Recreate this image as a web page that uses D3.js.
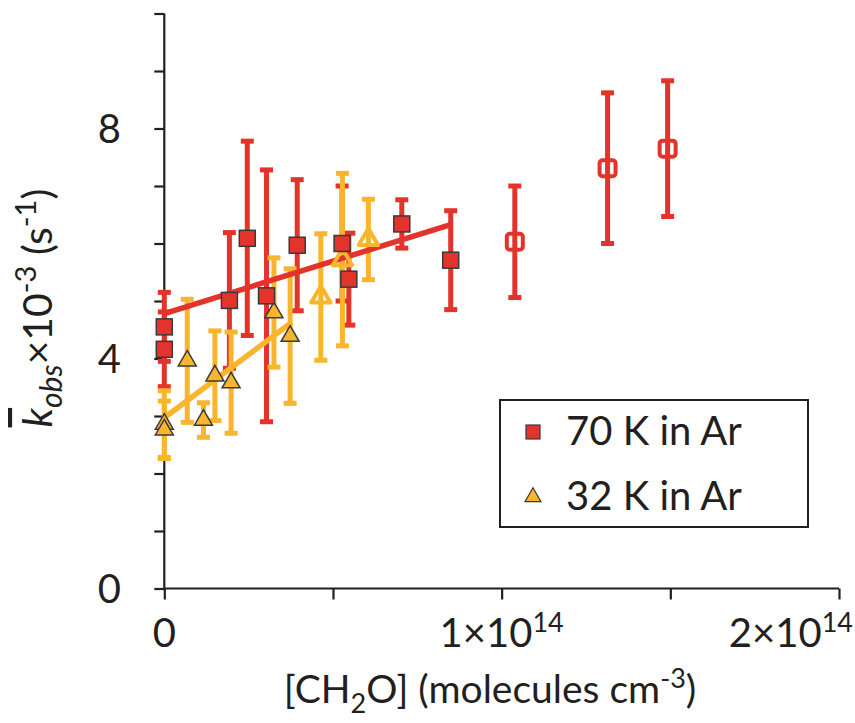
<!DOCTYPE html>
<html>
<head>
<meta charset="utf-8">
<script src="https://cdn.jsdelivr.net/npm/d3@7"></script>
<style>
  body { margin: 0; background: #fff; }
  text { font-family: Lato, "Open Sans", sans-serif; fill: #231f20; }
</style>
</head>
<body>
<div id="chart-area"></div>
<script>
// [CH2O] in molecules cm-3, k in units of 10^3 s-1
var red70X = [0, 0, 1.93e13, 2.46e13, 3.03e13, 3.94e13, 5.27e13, 5.47e13, 7.04e13, 8.49e13];
var red70Y = [4.55, 4.16, 5.01, 6.09, 5.09, 5.97, 6.00, 5.38, 6.34, 5.71];
var red70Err = [0.6, 0.65, 1.18, 1.69, 2.19, 1.14, 1.0, 0.8, 0.42, 0.86];
var red70OpenX = [10.39e13, 13.14e13, 14.92e13];
var red70OpenY = [6.03, 7.31, 7.65];
var red70OpenErr = [0.97, 1.31, 1.18];
var red70Fit = [[0, 4.78], [8.49e13, 6.33]];

var yel32X = [0, 0, 0.68e13, 1.16e13, 1.50e13, 1.98e13, 3.25e13, 3.73e13];
var yel32Y = [2.86, 2.76, 3.96, 2.93, 3.70, 3.58, 4.80, 4.39];
var yel32Err = [0.58, 0.5, 1.07, 0.3, 0.78, 0.88, 0.95, 1.17];
var yel32OpenX = [4.64e13, 5.28e13, 6.05e13];
var yel32OpenY = [5.07, 5.72, 6.07];
var yel32OpenErr = [1.1, 1.5, 0.7];
var yel32Fit = [[0, 2.97], [3.78e13, 4.63]];

var xTickValues = [0, 5e13, 1e14, 1.5e14, 2e14];
var xTickLabels = [["0", ""], ["", ""], ["1×10", "14"], ["", ""], ["2×10", "14"]];
var yTickValues = [0, 1, 2, 3, 4, 5, 6, 7, 8, 9, 10];
var yTickLabels = ["0", "", "", "", "4", "", "", "", "8", "", ""];
var seriesNames = ["70 K in Ar", "32 K in Ar"];

var RED = "#e3332a";
var YEL = "#f9b52b";
var EDGE = "#3a3a3a";

var width = 855, height = 723;
var svg = d3.select("#chart-area").append("svg").attr("width", width).attr("height", height);

var x = d3.scaleLinear().domain([0, 2e14]).range([164.3, 839]);
var y = d3.scaleLinear().domain([0, 10]).range([588.5, 13.5]);

// axes
var xAxis = d3.axisBottom(x).tickValues(xTickValues).tickSize(11).tickFormat("");
var yAxis = d3.axisLeft(y).tickValues(yTickValues).tickSize(10).tickFormat("");

var xAxisGroup = svg.append("g").attr("transform", "translate(0," + y(0) + ")").call(xAxis);
var yAxisGroup = svg.append("g").attr("transform", "translate(" + x(0) + ",0)").call(yAxis);
[xAxisGroup, yAxisGroup].forEach(function(g) {
  g.select(".domain").attr("stroke", "#231f20").attr("stroke-width", 2.2);
  g.selectAll(".tick line").attr("stroke", "#231f20").attr("stroke-width", 2.2);
});
yAxisGroup.select(".domain").attr("d", "M0," + y(0) + "V" + y(10));
xAxisGroup.select(".domain").attr("d", "M" + x(0) + ",0H" + x(2e14));

// tick labels
xTickValues.forEach(function(v, i) {
  var lab = xTickLabels[i];
  if (!lab[0]) return;
  var last = i === xTickValues.length - 1;
  var t = svg.append("text")
    .attr("x", last ? 853 : x(v))
    .attr("y", 647)
    .attr("font-size", "40px")
    .attr("text-anchor", last ? "end" : "middle");
  t.append("tspan").text(lab[0]);
  if (lab[1]) t.append("tspan").attr("dy", -15).attr("font-size", "27px").text(lab[1]);
});
yTickValues.forEach(function(v, i) {
  if (!yTickLabels[i]) return;
  svg.append("text").attr("x", 121).attr("y", y(v) + 14)
    .attr("font-size", "40px").attr("text-anchor", "end").text(yTickLabels[i]);
});

// axis titles
var xTitle = svg.append("text").attr("x", 490).attr("y", 703)
  .attr("font-size", "39px").attr("text-anchor", "middle");
xTitle.append("tspan").text("[CH");
xTitle.append("tspan").attr("dy", 10).attr("font-size", "27px").text("2");
xTitle.append("tspan").attr("dy", -10).text("O] (molecules cm");
xTitle.append("tspan").attr("dy", -15).attr("font-size", "27px").text("-3");
xTitle.append("tspan").attr("dy", 15).text(")");

var yTitle = svg.append("text").attr("transform", "translate(52,308) rotate(-90)")
  .attr("font-size", "41px").attr("text-anchor", "middle");
yTitle.append("tspan").attr("font-style", "italic").style("text-decoration", "overline").text("k");
yTitle.append("tspan").attr("dy", 10).attr("font-size", "30px").attr("font-style", "italic").text("obs");
yTitle.append("tspan").attr("dy", -10).text("×10");
yTitle.append("tspan").attr("dy", -16).attr("font-size", "29px").text("-3");
yTitle.append("tspan").attr("dy", 16).text(" (s");
yTitle.append("tspan").attr("dy", -16).attr("font-size", "29px").text("-1");
yTitle.append("tspan").attr("dy", 16).text(")");

// error bars
function errorBars(xs, ys, es, color) {
  var g = svg.append("g");
  xs.forEach(function(xv, i) {
    var lo = y(ys[i] - es[i]), hi = y(ys[i] + es[i]), cx = x(xv);
    g.append("line").attr("x1", cx).attr("x2", cx).attr("y1", lo).attr("y2", hi)
      .attr("stroke", color).attr("stroke-width", 5);
    [lo, hi].forEach(function(py) {
      g.append("line").attr("x1", cx - 6.5).attr("x2", cx + 6.5).attr("y1", py).attr("y2", py)
        .attr("stroke", color).attr("stroke-width", 5);
    });
  });
}
errorBars(red70X, red70Y, red70Err, RED);
errorBars(red70OpenX, red70OpenY, red70OpenErr, RED);
errorBars(yel32X, yel32Y, yel32Err, YEL);
errorBars(yel32OpenX, yel32OpenY, yel32OpenErr, YEL);

// fit lines
var line = d3.line().x(function(d) { return x(d[0]); }).y(function(d) { return y(d[1]); });
svg.append("path").attr("d", line(red70Fit)).attr("stroke", RED).attr("stroke-width", 5.5).attr("fill", "none");
svg.append("path").attr("d", line(yel32Fit)).attr("stroke", YEL).attr("stroke-width", 5.5).attr("fill", "none");

// markers
var tri = d3.symbol().type(d3.symbolTriangle).size(140);
yel32X.forEach(function(xv, i) {
  svg.append("path").attr("d", tri()).attr("transform", "translate(" + x(xv) + "," + y(yel32Y[i]) + ")")
    .attr("fill", YEL).attr("stroke", EDGE).attr("stroke-width", 1.5);
});
yel32OpenX.forEach(function(xv, i) {
  svg.append("path").attr("d", d3.symbol().type(d3.symbolTriangle).size(160)())
    .attr("transform", "translate(" + x(xv) + "," + y(yel32OpenY[i]) + ")")
    .attr("fill", "none").attr("stroke", YEL).attr("stroke-width", 4).attr("stroke-linejoin", "round");
});
red70X.forEach(function(xv, i) {
  svg.append("rect").attr("x", x(xv) - 8).attr("y", y(red70Y[i]) - 8).attr("width", 16).attr("height", 16)
    .attr("fill", RED).attr("stroke", EDGE).attr("stroke-width", 1.5);
});
red70OpenX.forEach(function(xv, i) {
  svg.append("rect").attr("x", x(xv) - 8).attr("y", y(red70OpenY[i]) - 8).attr("width", 16).attr("height", 16)
    .attr("rx", 3).attr("fill", "none").attr("stroke", RED).attr("stroke-width", 4);
});

// legend
var legend = svg.append("g");
legend.append("rect").attr("x", 500).attr("y", 400).attr("width", 308).attr("height", 127)
  .attr("fill", "#fff").attr("stroke", "#231f20").attr("stroke-width", 2);
legend.append("rect").attr("x", 526).attr("y", 425).attr("width", 14).attr("height", 14)
  .attr("fill", RED).attr("stroke", EDGE).attr("stroke-width", 1.2);
legend.append("path").attr("d", d3.symbol().type(d3.symbolTriangle).size(110)())
  .attr("transform", "translate(533,497)").attr("fill", YEL).attr("stroke", EDGE).attr("stroke-width", 1.2);
seriesNames.forEach(function(s, i) {
  legend.append("text").attr("x", 566).attr("y", 445 + i * 65).attr("font-size", "40px").text(s);
});
</script>
</body>
</html>
